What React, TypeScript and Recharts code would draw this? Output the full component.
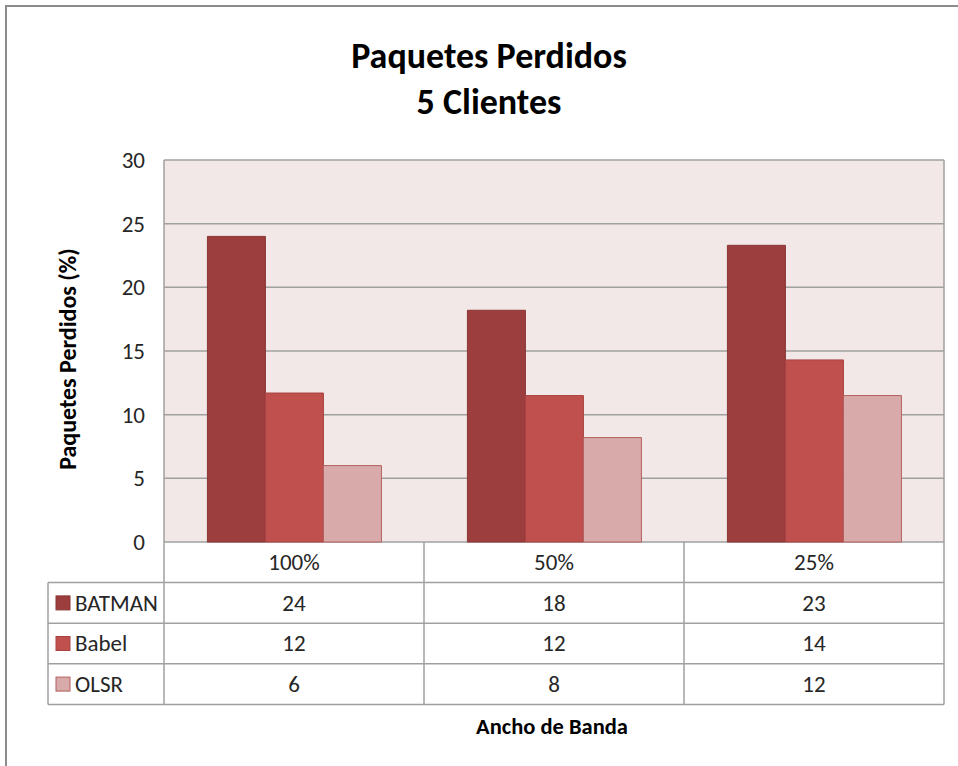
import { Bar, BarChart, CartesianGrid, XAxis, YAxis } from 'recharts';

const categories = ['100%', '50%', '25%'];
const batman = [24.0, 18.2, 23.3];
const babel = [11.7, 11.5, 14.3];
const olsr = [6.0, 8.2, 11.5];
const yTicks = [0, 5, 10, 15, 20, 25, 30];

const seriesDefs = [
  { key: 'BATMAN', values: batman, fill: '#9C3E3D', stroke: '#8A3533' },
  { key: 'Babel', values: babel, fill: '#C0504E', stroke: '#A84341' },
  { key: 'OLSR', values: olsr, fill: '#D9AAAA', stroke: '#B3605E' },
];

const data = categories.map((cat, i) => ({
  cat,
  BATMAN: batman[i],
  Babel: babel[i],
  OLSR: olsr[i],
}));

// layout
const W = 958;
const H = 766;
const PLOT_L = 164;
const PLOT_R = 944;
const PLOT_T = 160;
const PLOT_B = 542;
const ROW_H = 40.6;
const TABLE_L = 48;
const TABLE_B = PLOT_B + ROW_H * 4;
const LINE = '#A0A0A0';
const TEXT = '#262626';
const FONT = "Carlito, Calibri, 'Noto Sans', sans-serif";
const FS = 23;

function TableTick(props: any) {
  const { x, payload, index } = props;
  const band = (PLOT_R - PLOT_L) / categories.length;
  const left = x - band / 2;
  const right = x + band / 2;
  const i = payload.index ?? index;
  return (
    <g fontFamily={FONT}>
      {index === 0 && (
        <g>
          {[1, 2, 3, 4].map((r) => (
            <line
              key={r}
              x1={TABLE_L}
              x2={PLOT_R}
              y1={PLOT_B + ROW_H * r}
              y2={PLOT_B + ROW_H * r}
              stroke={LINE}
              strokeWidth={1.5}
            />
          ))}
          <line x1={TABLE_L} x2={TABLE_L} y1={PLOT_B + ROW_H} y2={TABLE_B} stroke={LINE} strokeWidth={1.5} />
          {seriesDefs.map((s, r) => (
            <g key={s.key}>
              <rect
                x={TABLE_L + 8}
                y={PLOT_B + ROW_H * (r + 1.5) - 7}
                width={14}
                height={14}
                fill={s.fill}
                stroke={s.stroke}
              />
              <text
                x={TABLE_L + 27}
                y={PLOT_B + ROW_H * (r + 1.5)}
                dy="0.34em"
                fontSize={FS}
                fill={TEXT}
              >
                {s.key}
              </text>
            </g>
          ))}
        </g>
      )}
      <line x1={left} x2={left} y1={PLOT_B} y2={TABLE_B} stroke={LINE} strokeWidth={1.5} />
      {index === categories.length - 1 && (
        <line x1={right} x2={right} y1={PLOT_B} y2={TABLE_B} stroke={LINE} strokeWidth={1.5} />
      )}
      <text x={x} y={PLOT_B + ROW_H / 2} dy="0.34em" textAnchor="middle" fontSize={FS} fill={TEXT}>
        {payload.value}
      </text>
      {seriesDefs.map((s, r) => (
        <text
          key={s.key}
          x={x}
          y={PLOT_B + ROW_H * (r + 1.5)}
          dy="0.34em"
          textAnchor="middle"
          fontSize={FS}
          fill={TEXT}
        >
          {Math.round(s.values[i])}
        </text>
      ))}
    </g>
  );
}

export default function App() {
  return (
    <div
      style={{
        position: 'absolute',
        left: 0,
        top: 0,
        width: W,
        height: H,
        overflow: 'hidden',
        background: '#fff',
        fontFamily: FONT,
      }}
    >
      <div
        style={{
          position: 'absolute',
          left: 5,
          top: 5,
          width: 1000,
          height: 800,
          border: '2px solid #8C8C8C',
        }}
      />
      <div
        style={{
          position: 'absolute',
          left: 0,
          top: 33,
          width: 978,
          textAlign: 'center',
          fontWeight: 700,
          fontSize: 36,
          lineHeight: '46px',
          color: '#000',
        }}
      >
        Paquetes Perdidos
        <br />
        5 Clientes
      </div>
      <div style={{ position: 'absolute', left: 0, top: 0 }}>
        <BarChart
          width={W}
          height={H}
          data={data}
          margin={{ top: PLOT_T, right: W - PLOT_R, bottom: 62, left: PLOT_L - 60 }}
          barCategoryGap="16.7%"
          barGap={0}
        >
          <CartesianGrid
            vertical={false}
            fill="#F2E8E8"
            stroke={LINE}
            strokeWidth={1.5}
          />
          <XAxis
            dataKey="cat"
            height={H - 62 - PLOT_B}
            axisLine={false}
            tickLine={false}
            tick={<TableTick />}
            interval={0}
          />
          <YAxis
            width={60}
            domain={[0, 30]}
            ticks={yTicks}
            axisLine={{ stroke: LINE, strokeWidth: 1.5 }}
            tickLine={false}
            tickSize={0}
            tickMargin={19}
            tick={{ fill: TEXT, fontSize: FS, fontFamily: FONT }}
          />
          {seriesDefs.map((s) => (
            <Bar
              key={s.key}
              dataKey={s.key}
              fill={s.fill}
              stroke={s.stroke}
              strokeWidth={1}
              isAnimationActive={false}
            />
          ))}
        </BarChart>
      </div>
      <svg
        width={W}
        height={H}
        style={{ position: 'absolute', left: 0, top: 0, pointerEvents: 'none' }}
      >
        <line x1={PLOT_R} x2={PLOT_R} y1={PLOT_T} y2={PLOT_B} stroke={LINE} strokeWidth={1.5} />
        <text
          x={68}
          y={359}
          transform="rotate(-90 68 359)"
          textAnchor="middle"
          dy="0.34em"
          fontFamily={FONT}
          fontWeight={700}
          fontSize={24}
          fill="#000"
        >
          Paquetes Perdidos (%)
        </text>
        <text
          x={552}
          y={726}
          textAnchor="middle"
          dy="0.34em"
          fontFamily={FONT}
          fontWeight={700}
          fontSize={22.5}
          fill="#000"
        >
          Ancho de Banda
        </text>
      </svg>
    </div>
  );
}
